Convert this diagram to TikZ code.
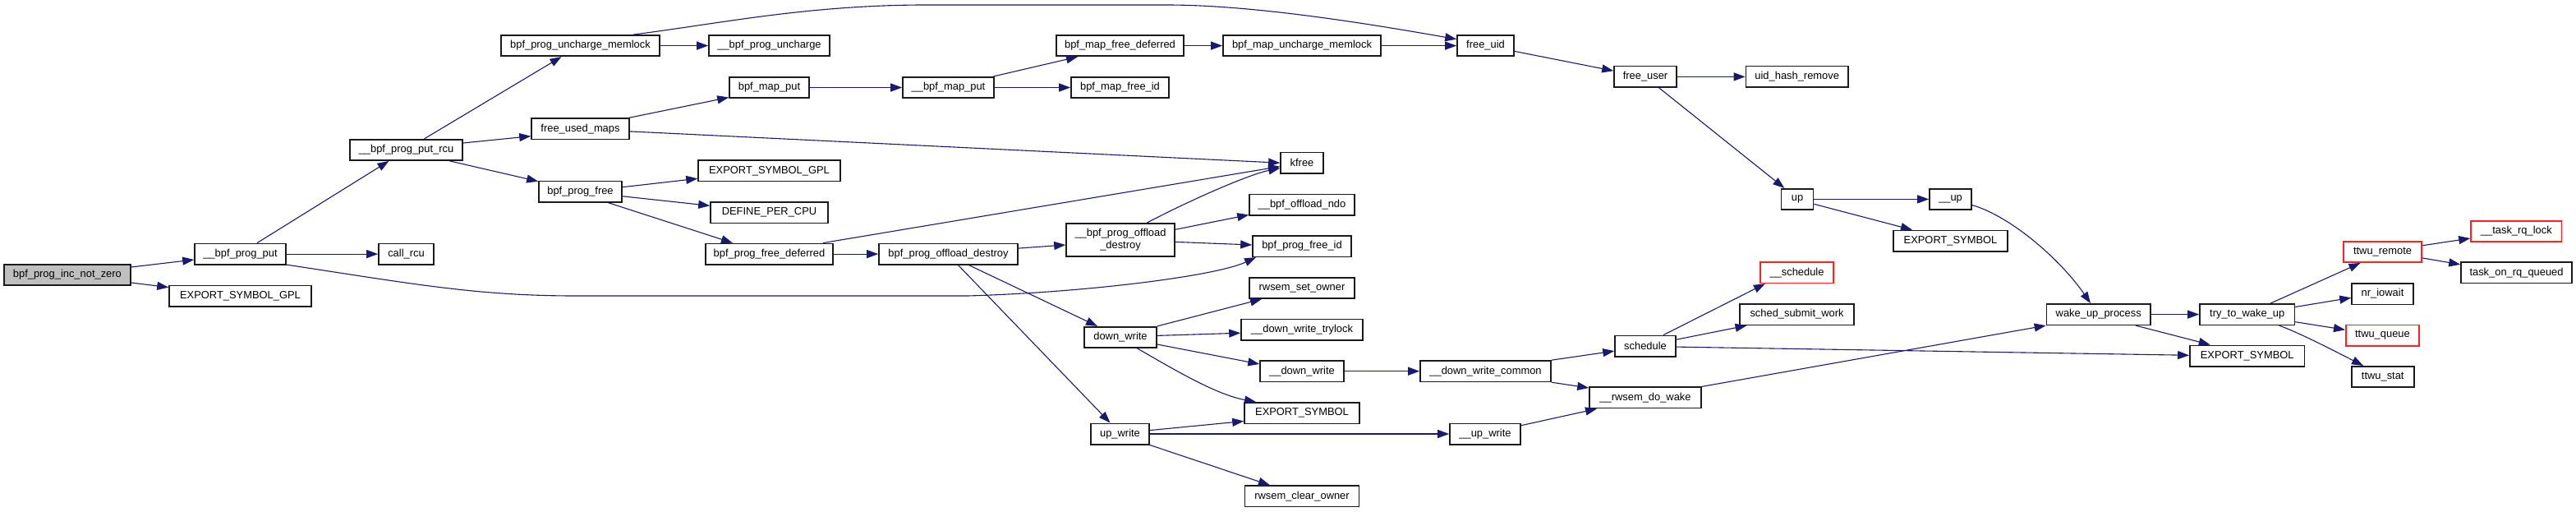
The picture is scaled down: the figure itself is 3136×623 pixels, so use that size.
\documentclass[tikz,border=0pt]{standalone}
\usepackage{fontspec}
\setmainfont{Liberation Sans}
\usetikzlibrary{arrows.meta}
\definecolor{edgec}{HTML}{191970}
\definecolor{boxc}{HTML}{1A1A1A}
\definecolor{redc}{HTML}{FF2020}
\definecolor{rootc}{HTML}{BFBFBF}
\tikzset{
  fn/.style={draw=boxc, line width=1.6pt, inner sep=0pt, minimum height=25.4pt,
    font=\fontsize{12.9}{15.5}\selectfont, text=black, align=center},
  rn/.style={fn, draw=redc},
  rootn/.style={fn, fill=rootc},
  e/.style={draw=edgec, line width=1.1pt, -{Triangle[length=14pt,width=10pt]}}
}
\begin{document}
\begin{tikzpicture}[x=1pt,y=-1pt]
\useasboundingbox (0,0) rectangle (3136,623);
% nodes
\node[rootn, minimum width=154.2pt] (root) at (81.9,334.5) {bpf\_prog\_inc\_not\_zero};
\node[fn, minimum width=111pt] (bpp) at (292.5,309.1) {\_\_bpf\_prog\_put};
\node[fn, minimum width=173pt] (esg1) at (292.5,360) {EXPORT\_SYMBOL\_GPL};
\node[fn, minimum width=137pt] (rcu) at (494.5,182.4) {\_\_bpf\_prog\_put\_rcu};
\node[fn, minimum width=67pt] (callrcu) at (494.5,309.1) {call\_rcu};
\node[fn, minimum width=193pt] (bpum) at (706.5,55.6) {bpf\_prog\_uncharge\_memlock};
\node[fn, minimum width=147pt] (bpu) at (936.5,55.6) {\_\_bpf\_prog\_uncharge};
\node[fn, minimum width=97pt] (bmp) at (936.5,106.5) {bpf\_map\_put};
\node[fn, minimum width=119pt] (fum) at (706.5,156.9) {free\_used\_maps};
\node[fn, minimum width=173pt] (esg2) at (936.5,207.8) {EXPORT\_SYMBOL\_GPL};
\node[fn, minimum width=101pt] (bpf) at (706.5,233.2) {bpf\_prog\_free};
\node[fn, minimum width=143pt] (dpc) at (936.5,258.6) {DEFINE\_PER\_CPU};
\node[fn, minimum width=155pt] (bpfd) at (936.5,309.1) {bpf\_prog\_free\_deferred};
\node[fn, minimum width=111pt] (ubmp) at (1154.5,106.5) {\_\_bpf\_map\_put};
\node[fn, minimum width=155pt] (bmfd) at (1363.5,55.6) {bpf\_map\_free\_deferred};
\node[fn, minimum width=119pt] (bmfi) at (1363.5,106.5) {bpf\_map\_free\_id};
\node[fn, minimum width=192pt] (bmum) at (1585,55.6) {bpf\_map\_uncharge\_memlock};
\node[fn, minimum width=52pt] (kfree) at (1585,198.2) {kfree};
\node[fn, minimum width=169pt] (bpod) at (1154.5,309.1) {bpf\_prog\_offload\_destroy};
\node[fn, minimum width=132pt, minimum height=40pt] (ubpod) at (1364,291.8) {\_\_bpf\_prog\_offload\\\_destroy};
\node[fn, minimum width=128pt] (ndo) at (1585,249.1) {\_\_bpf\_offload\_ndo};
\node[fn, minimum width=120pt] (bpfi) at (1585,299.6) {bpf\_prog\_free\_id};
\node[fn, minimum width=128pt] (rso) at (1585,350.4) {rwsem\_set\_owner};
\node[fn, minimum width=148pt] (dwt) at (1585,401.3) {\_\_down\_write\_trylock};
\node[fn, minimum width=102pt] (udw) at (1585,451.7) {\_\_down\_write};
\node[fn, minimum width=140pt] (es1) at (1585,502.6) {EXPORT\_SYMBOL};
\node[fn, minimum width=139pt] (rco) at (1585,603.9) {rwsem\_clear\_owner};
\node[fn, minimum width=88pt] (dw) at (1364,410.4) {down\_write};
\node[fn, minimum width=71pt] (uw) at (1363.5,528) {up\_write};
\node[fn, minimum width=69pt] (fuid) at (1808.5,55.6) {free\_uid};
\node[fn, minimum width=76pt] (fuser) at (2003,93.4) {free\_user};
\node[fn, minimum width=159pt] (dwc) at (1808.5,451.7) {\_\_down\_write\_common};
\node[fn, minimum width=74pt] (sched) at (2003,421.1) {schedule};
\node[fn, minimum width=136pt] (rdw) at (2003,483.9) {\_\_rwsem\_do\_wake};
\node[fn, minimum width=86pt] (uuw) at (1808,528) {\_\_up\_write};
\node[fn, minimum width=124.5pt] (uhr) at (2187.7,93.4) {uid\_hash\_remove};
\node[fn, minimum width=39pt] (up) at (2188,242.4) {up};
\node[fn, minimum width=51pt] (uup) at (2374.5,242.4) {\_\_up};
\node[fn, minimum width=139pt] (es2) at (2374.5,293.2) {EXPORT\_SYMBOL};
\node[rn, minimum width=89pt] (usched) at (2187.5,331.7) {\_\_schedule};
\node[fn, minimum width=139pt] (ssw) at (2187.5,382.6) {sched\_submit\_work};
\node[fn, minimum width=126.5pt] (wup) at (2554.7,382.6) {wake\_up\_process};
\node[fn, minimum width=115.5pt] (ttwu) at (2735.7,382.6) {try\_to\_wake\_up};
\node[fn, minimum width=139.5pt] (es3) at (2735.7,433) {EXPORT\_SYMBOL};
\node[rn, minimum width=95pt] (tr) at (2900.5,306.5) {ttwu\_remote};
\node[rn, minimum width=110.6pt] (trl) at (3063.3,281.5) {\_\_task\_rq\_lock};
\node[fn, minimum width=135pt] (torq) at (3063.5,331.7) {task\_on\_rq\_queued};
\node[fn, minimum width=75pt] (nri) at (2900.5,357.6) {nr\_iowait};
\node[rn, minimum width=89.3pt] (tq) at (2900.4,408) {ttwu\_queue};
\node[fn, minimum width=76pt] (tst) at (2900.7,458.5) {ttwu\_stat};
% edges
\draw[e] ([yshift=9.5pt]root.east) -- ([yshift=-6.9pt]bpp.west);
\draw[e] ([yshift=-9.5pt]root.east) -- ([yshift=10.4pt]esg1.west);
\draw[e] ([xshift=20.5pt]bpp.north) -- ([xshift=-21pt]rcu.south);
\draw[e] (bpp.east) -- (callrcu.west);
\draw[e] ([yshift=0.5pt]bpp.south east) .. controls (500,345) and (580,360) .. (700,360) -- (1178,360) .. controls (1320,356) and (1480,336) .. ([xshift=-56pt]bpfi.south);
\draw[e] ([xshift=22pt]rcu.north) -- ([xshift=-23pt]bpum.south);
\draw[e] ([yshift=8.4pt]rcu.east) -- ([yshift=-8.8pt]fum.west);
\draw[e] ([xshift=53pt]rcu.south) -- ([yshift=-1pt]bpf.north west);
\draw[e] (bpum.east) -- (bpu.west);
\draw[e] ([xshift=64.5pt]bpum.north) .. controls (880,28) and (980,7) .. (1120,6) -- (1420,6) .. controls (1520,6) and (1650,26) .. ([yshift=7.9pt]fuid.west);
\draw[e] (bmum.east) -- (fuid.west);
\draw[e] ([xshift=-1.5pt]fum.north east) -- ([yshift=-12pt]bmp.west);
\draw[e] ([yshift=-3pt]fum.east) -- (kfree.west);
\draw[e] (bmp.east) -- (ubmp.west);
\draw[e] ([xshift=-1.5pt]ubmp.north east) -- ([xshift=-51.5pt]bmfd.south);
\draw[e] (ubmp.east) -- (bmfi.west);
\draw[e] (bmfd.east) -- (bmum.west);
\draw[e] ([yshift=5.5pt]bpf.east) -- ([yshift=-9.5pt]esg2.west);
\draw[e] ([yshift=-5.6pt]bpf.east) -- ([yshift=8.3pt]dpc.west);
\draw[e] ([xshift=34pt]bpf.south) -- ([xshift=-44.5pt]bpfd.north);
\draw[e] ([xshift=65.5pt]bpfd.north) -- ([yshift=-4.4pt]kfree.west);
\draw[e] (bpfd.east) -- (bpod.west);
\draw[e] ([yshift=7pt]bpod.east) -- ([yshift=-6.2pt]ubpod.west);
\draw[e] ([xshift=25pt]bpod.south) -- ([xshift=-28pt]dw.north);
\draw[e] ([xshift=12pt]bpod.south) -- ([xshift=-12pt]uw.north);
\draw[e] ([xshift=32.4pt]ubpod.north) .. controls (1446,245) and (1519,212.6) .. ([yshift=-6.4pt]kfree.west);
\draw[e] ([yshift=12.5pt]ubpod.east) -- ([yshift=-12.3pt]ndo.west);
\draw[e] ([yshift=-2.6pt]ubpod.east) -- ([yshift=1.6pt]bpfi.west);
\draw[e] (dw.north east) -- ([xshift=-49pt]rso.south);
\draw[e] ([yshift=2pt]dw.east) -- ([yshift=-3.9pt]dwt.west);
\draw[e] ([yshift=-8.6pt]dw.east) -- ([yshift=8.7pt]udw.west);
\draw[e] ([xshift=20.4pt]dw.south) .. controls (1430,450) and (1480,480) .. ([xshift=-56pt]es1.north);
\draw[e] ([yshift=4.4pt]uw.east) -- ([yshift=-9.9pt]es1.west);
\draw[e] (uw.east) -- (uuw.west);
\draw[e] (uw.south east) -- ([xshift=-39pt]rco.north);
\draw[e] (udw.east) -- (dwc.west);
\draw[e] (dwc.north east) -- ([yshift=-6pt]sched.west);
\draw[e] (dwc.south east) -- ([yshift=-1.6pt]rdw.north west);
\draw[e] ([yshift=10.3pt]uuw.east) -- ([xshift=-59pt]rdw.south);
\draw[e] ([xshift=22pt]sched.north) -- ([xshift=-38.6pt]usched.south);
\draw[e] ([yshift=7.9pt]sched.east) -- ([xshift=-61pt]ssw.south);
\draw[e] ([yshift=-1pt]sched.east) -- ([yshift=0.7pt]es3.west);
\draw[e] (rdw.north east) -- (wup.south west);
\draw[e] ([yshift=-6.8pt]fuid.east) -- ([yshift=7.2pt]fuser.west);
\draw[e] (fuser.east) -- (uhr.west);
\draw[e] ([xshift=16.7pt]fuser.south) -- ([xshift=-15.7pt]up.north);
\draw[e] (up.east) -- (uup.west);
\draw[e] ([yshift=-5.9pt]up.east) -- ([xshift=-46.5pt]es2.north);
\draw[e] ([yshift=-7.1pt]uup.east) .. controls (2450,264) and (2510,318) .. ([xshift=-9.7pt]wup.north);
\draw[e] (wup.east) -- (ttwu.west);
\draw[e] ([xshift=45.3pt]wup.south) -- ([xshift=-45pt]es3.north);
\draw[e] ([xshift=28.3pt]ttwu.north) -- ([xshift=-27pt]tr.south);
\draw[e] ([yshift=9.1pt]ttwu.east) -- ([yshift=-4.7pt]nri.west);
\draw[e] ([yshift=-9.1pt]ttwu.east) -- ([yshift=6.7pt]tq.west);
\draw[e] ([xshift=38.7pt]ttwu.south) .. controls (2795,403) and (2840,426) .. ([xshift=-23.7pt]tst.north);
\draw[e] ([yshift=7.7pt]tr.east) -- ([yshift=-8.5pt]trl.west);
\draw[e] ([yshift=-7.4pt]tr.east) -- ([yshift=9.9pt]torq.west);
\end{tikzpicture}
\end{document}
